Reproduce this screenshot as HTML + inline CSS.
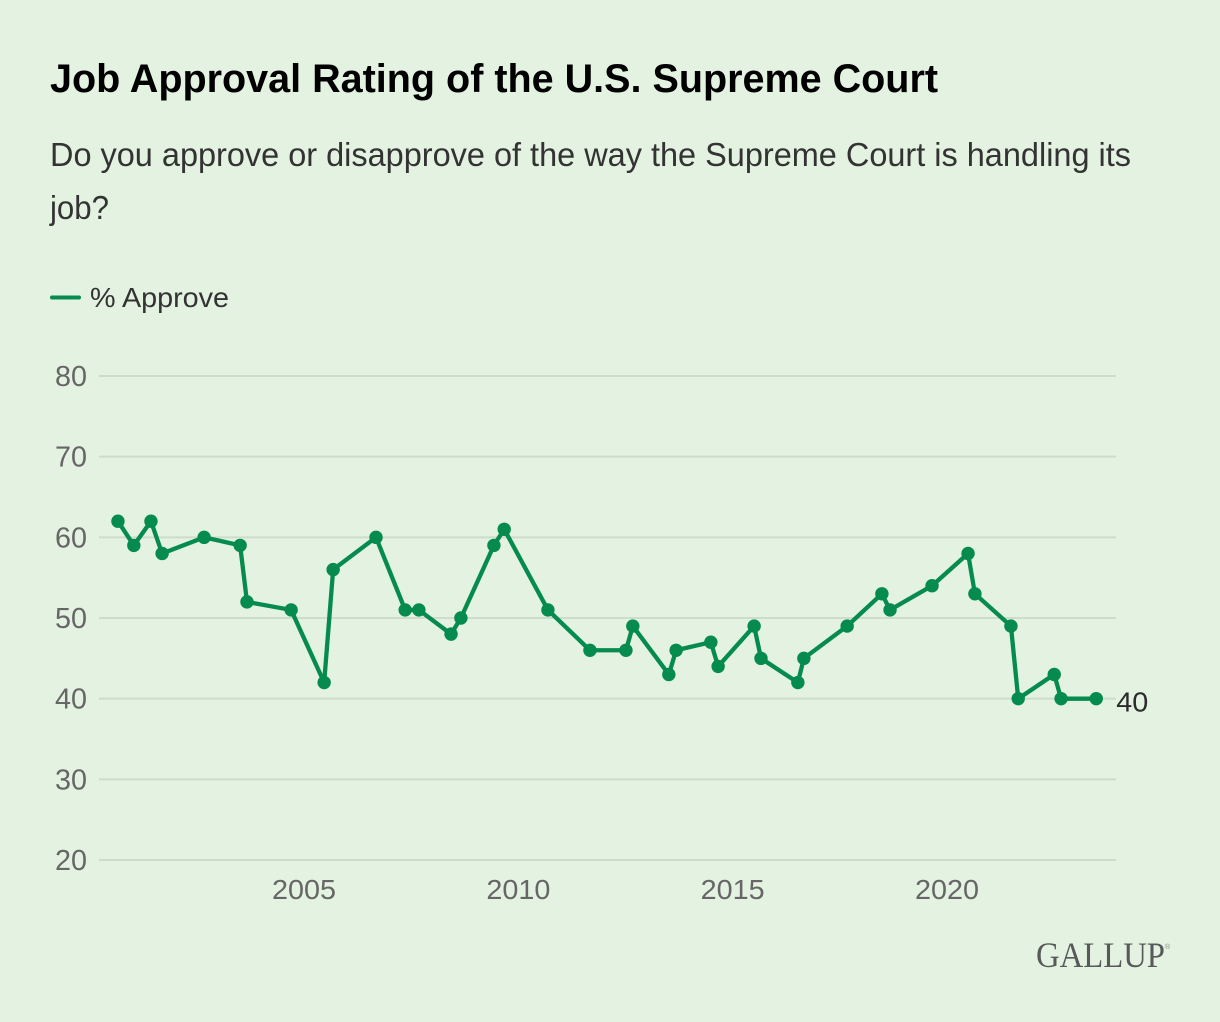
<!DOCTYPE html>
<html lang="en">
<head>
<meta charset="utf-8">
<title>Job Approval Rating of the U.S. Supreme Court</title>
<style>
html,body{margin:0;padding:0;background:#e4f2e1;}
svg{display:block;}
text{font-family:"Liberation Sans",sans-serif;}
</style>
</head>
<body>
<svg id="chart" xmlns="http://www.w3.org/2000/svg" width="1220" height="1022" viewBox="0 0 1220 1022">
  <rect x="0" y="0" width="1220" height="1022" fill="#e4f2e1"/>
  <text x="50" y="92" font-size="40" font-weight="700" fill="#000" textLength="888" lengthAdjust="spacingAndGlyphs">Job Approval Rating of the U.S. Supreme Court</text>
  <text x="50" y="166" font-size="33" fill="#333" textLength="1081" lengthAdjust="spacingAndGlyphs">Do you approve or disapprove of the way the Supreme Court is handling its</text>
  <text x="50" y="219" font-size="33" fill="#333" textLength="59" lengthAdjust="spacingAndGlyphs">job?</text>
  <line x1="52" y1="297.5" x2="79" y2="297.5" stroke="#058b4e" stroke-width="4" stroke-linecap="round"/>
  <text x="90" y="307" font-size="28" fill="#333" textLength="139" lengthAdjust="spacingAndGlyphs">% Approve</text>
  <g id="grid"></g>
  <g id="yticks"></g>
  <g id="xticks"></g>
  <polyline id="line" fill="none" stroke="#058b4e" stroke-width="4.3" stroke-linejoin="round"/>
  <g id="points"></g>
  <text id="endlabel" font-size="28" fill="#2b2b2b" textLength="32" lengthAdjust="spacingAndGlyphs"></text>
  <text x="1036" y="967" font-size="36" fill="#58595b" textLength="129" lengthAdjust="spacingAndGlyphs" style="font-family:'Liberation Serif',serif">GALLUP</text>
  <text x="1165" y="949" font-size="7" fill="#8a8a8a" style="font-family:'Liberation Sans',sans-serif">®</text>
</svg>
<script>
const yTicks = [20, 30, 40, 50, 60, 70, 80];
const xTicks = [2005, 2010, 2015, 2020];
const dates = [2000.66, 2001.03, 2001.43, 2001.69, 2002.67, 2003.51, 2003.67, 2004.70, 2005.47, 2005.68, 2006.68, 2007.36, 2007.68, 2008.43, 2008.66, 2009.43, 2009.67, 2010.69, 2011.67, 2012.51, 2012.67, 2013.51, 2013.68, 2014.49, 2014.66, 2015.50, 2015.66, 2016.52, 2016.66, 2017.67, 2018.48, 2018.67, 2019.65, 2020.49, 2020.65, 2021.49, 2021.66, 2022.50, 2022.66, 2023.48];
const approve = [62, 59, 62, 58, 60, 59, 52, 51, 42, 56, 60, 51, 51, 48, 50, 59, 61, 51, 46, 46, 49, 43, 46, 47, 44, 49, 45, 42, 45, 49, 53, 51, 54, 58, 53, 49, 40, 43, 40, 40];

const NS = 'http://www.w3.org/2000/svg';
function xScale(t) { return 304 + (t - 2005) * 42.87; }
function yScale(v) { return 860 - (v - 20) * (484 / 60); }

const grid = document.getElementById('grid');
const yLabels = document.getElementById('yticks');
const xLabels = document.getElementById('xticks');
const pointsGroup = document.getElementById('points');

yTicks.forEach(function (v) {
  const l = document.createElementNS(NS, 'line');
  
  
  l.setAttribute('x1', 99);
  l.setAttribute('x2', 1116);
  l.setAttribute('y1', yScale(v));
  l.setAttribute('y2', yScale(v));
  l.setAttribute('stroke', '#cddccb');
  l.setAttribute('stroke-width', 2);
  grid.appendChild(l);

  const t = document.createElementNS(NS, 'text');
  
  
  t.setAttribute('x', 55);
  t.setAttribute('y', yScale(v) + 10);
  t.setAttribute('font-size', 29);
  t.setAttribute('fill', '#666');
  t.setAttribute('textLength', 32);
  t.setAttribute('lengthAdjust', 'spacingAndGlyphs');
  t.textContent = v;
  yLabels.appendChild(t);
});

xTicks.forEach(function (y) {
  const t = document.createElementNS(NS, 'text');
  
  
  t.setAttribute('x', xScale(y) - 32);
  t.setAttribute('y', 899);
  t.setAttribute('font-size', 28);
  t.setAttribute('fill', '#666');
  t.setAttribute('textLength', 64);
  t.setAttribute('lengthAdjust', 'spacingAndGlyphs');
  t.textContent = y;
  xLabels.appendChild(t);
});

document.getElementById('line').setAttribute('points', dates.map(function (d, i) {
  return xScale(d) + ',' + yScale(approve[i]);
}).join(' '));

dates.forEach(function (d, i) {
  const c = document.createElementNS(NS, 'circle');
  
  
  c.setAttribute('cx', xScale(d));
  c.setAttribute('cy', yScale(approve[i]));
  c.setAttribute('r', 6.7);
  c.setAttribute('fill', '#058b4e');
  pointsGroup.appendChild(c);
});

const last = approve.length - 1;
const endLabel = document.getElementById('endlabel');
endLabel.setAttribute('x', xScale(dates[last]) + 20);
endLabel.setAttribute('y', yScale(approve[last]) + 13);
endLabel.textContent = approve[last];
</script>
</body>
</html>
